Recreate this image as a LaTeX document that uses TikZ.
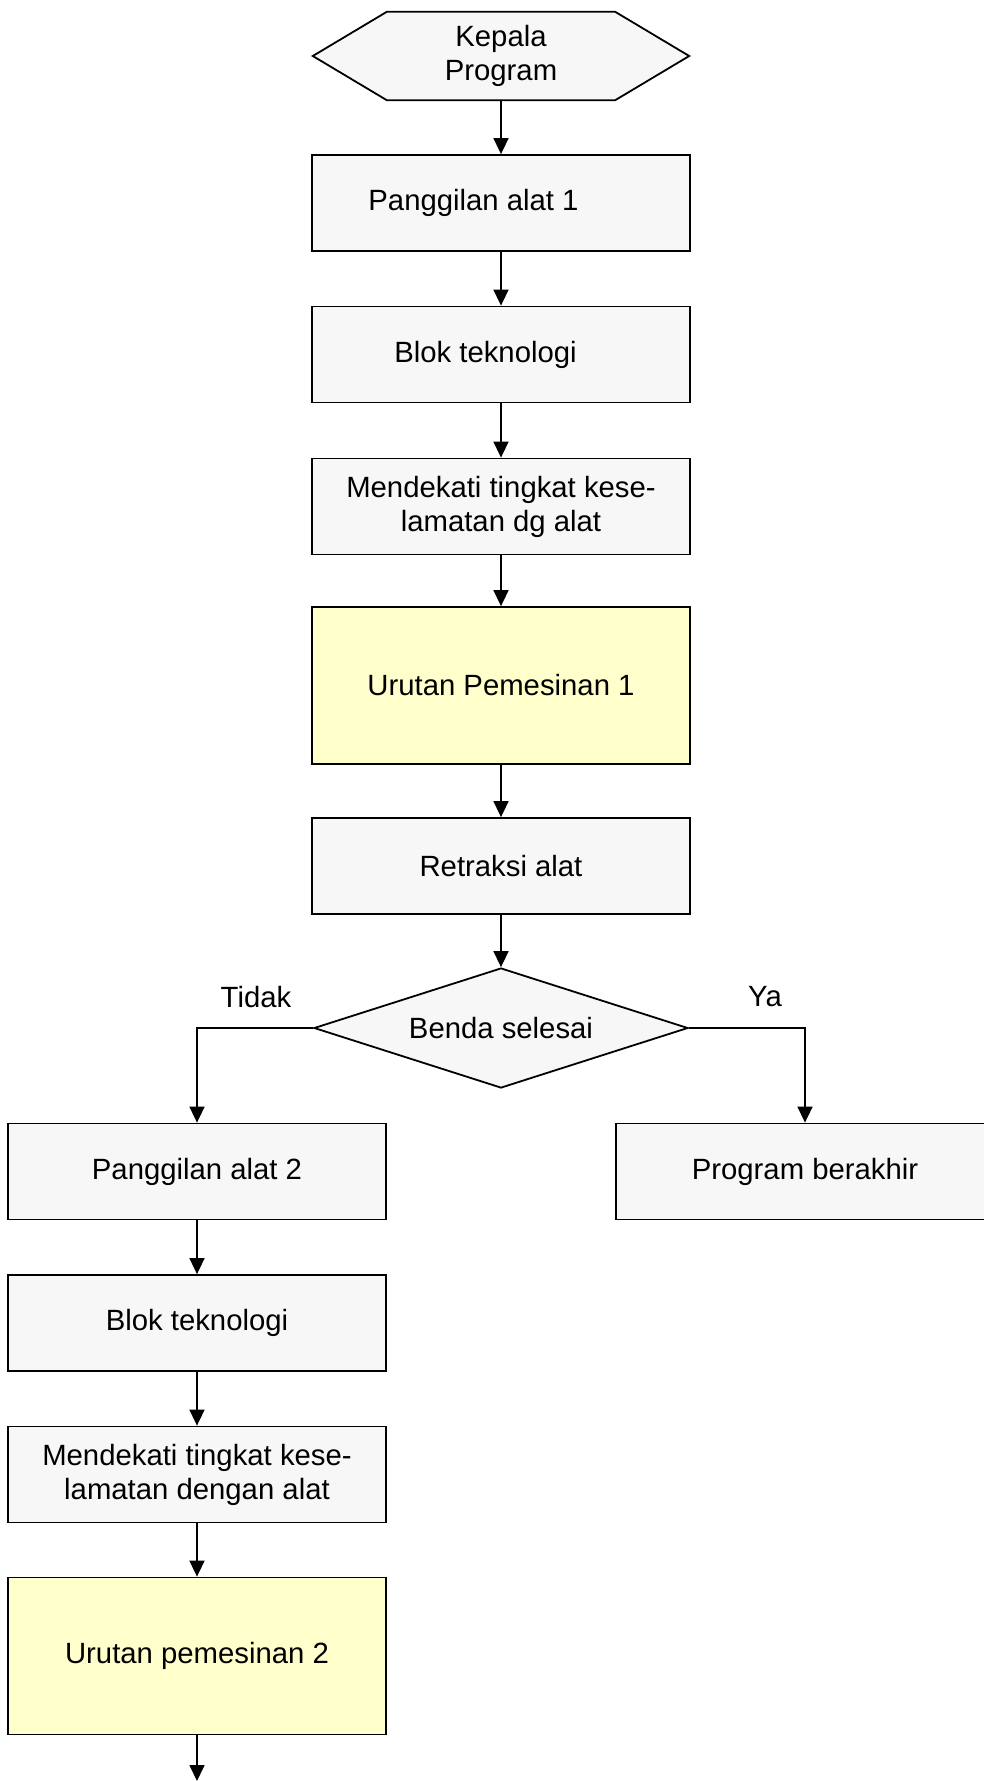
\documentclass[tikz,border=0pt]{standalone}
\usepackage{fontspec}
\setmainfont{Liberation Sans}
\usepackage{xcolor}
\usetikzlibrary{arrows.meta, positioning, shapes.geometric, backgrounds}
\definecolor{boxgray}{HTML}{F7F7F7}
\definecolor{seqyellow}{HTML}{FFFFCC}

\begin{document}
\begin{tikzpicture}[x=1pt, y=-1pt,
  txt/.style={font=\fontsize{29.3}{34}\selectfont, align=center, inner sep=0pt},
  box/.style={txt, rectangle, draw=black, line width=1.8pt, fill=boxgray, minimum width=378pt, minimum height=96pt},
  seq/.style={box, fill=seqyellow, minimum height=157pt},
  decision/.style={txt, diamond, aspect=3.1, draw=black, line width=1.8pt, fill=boxgray, minimum width=374pt, minimum height=120pt},
  arr/.style={-{Triangle[length=16pt, width=15pt]}, line width=1.6pt}
]
  \useasboundingbox (0,0) rectangle (983,1781);

  % main column
  \node[txt, minimum width=376pt, minimum height=88pt] (kepala) at (501,56) {Kepala\\Program};
  \node[box] (panggil1) at (501,203) {\hspace*{-55pt}Panggilan alat 1};
  \node[box] (blok1) at (501,354.5) {\hspace*{-31pt}Blok teknologi};
  \node[box] (dekat1) at (501,506.5) {Mendekati tingkat kese-\\lamatan dg alat};
  \node[seq] (urut1) at (501,685.5) {Urutan Pemesinan 1};
  \node[box] (retraksi) at (501,866) {Retraksi alat};
  \node[decision] (benda) at (501,1028) {Benda selesai};
  \node[txt] (tidak) at (256,997) {Tidak};
  \node[txt] (ya) at (765,997) {Ya};

  % branches
  \node[box] (selesai) at (805,1171.5) {Program berakhir};
  \node[box] (panggil2) at (197,1171.5) {Panggilan alat 2};
  \node[box] (blok2) at (197,1323) {Blok teknologi};
  \node[box] (dekat2) at (197,1474.5) {Mendekati tingkat kese-\\lamatan dengan alat};
  \node[seq] (urut2) at (197,1656) {Urutan pemesinan 2};
  \coordinate (lanjut) at (197,1781);

  % hexagon outline behind the head text
  \begin{scope}[on background layer]
    \draw[line width=1.8pt, fill=boxgray] (kepala.west) -- ([xshift=74pt]kepala.north west)
      -- ([xshift=-74pt]kepala.north east) -- (kepala.east)
      -- ([xshift=-74pt]kepala.south east) -- ([xshift=74pt]kepala.south west) -- cycle;
  \end{scope}

  \draw[arr] (kepala) -- (panggil1);
  \draw[arr] (panggil1) -- (blok1);
  \draw[arr] (blok1) -- (dekat1);
  \draw[arr] (dekat1) -- (urut1);
  \draw[arr] (urut1) -- (retraksi);
  \draw[arr] (retraksi) -- (benda);
  \draw[arr] (benda.west) -| (panggil2);
  \draw[arr] (benda.east) -| (selesai);
  \draw[arr] (panggil2) -- (blok2);
  \draw[arr] (blok2) -- (dekat2);
  \draw[arr] (dekat2) -- (urut2);
  \draw[arr] (urut2) -- (lanjut);
\end{tikzpicture}
\end{document}
